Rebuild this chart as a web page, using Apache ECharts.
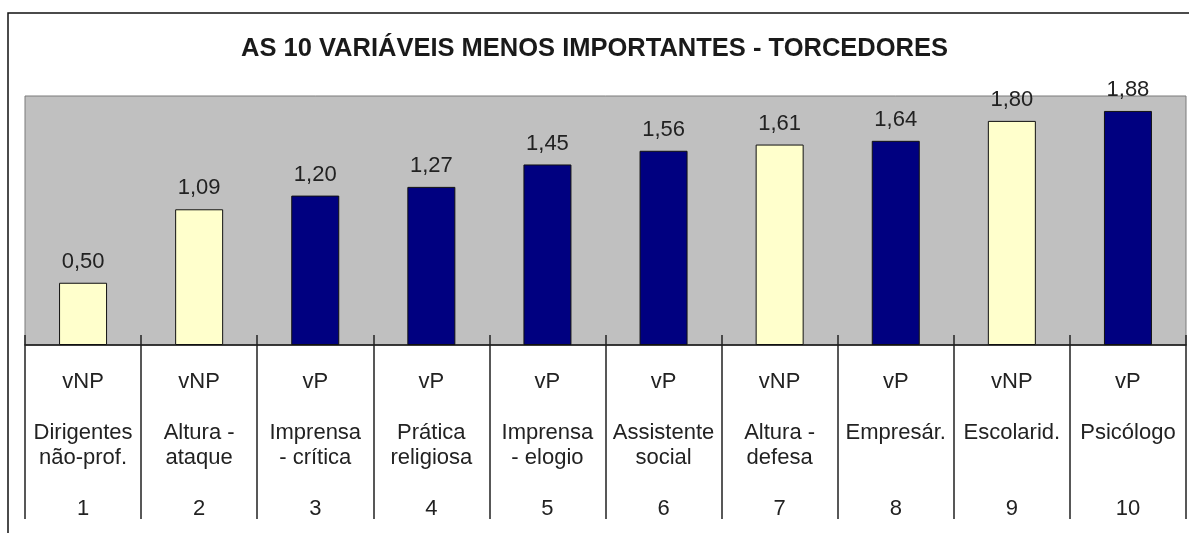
<!DOCTYPE html>
<html>
<head>
<meta charset="utf-8">
<script src="https://cdn.jsdelivr.net/npm/echarts@6/dist/echarts.min.js"></script>
<style>
  html, body { margin: 0; padding: 0; background: #fff; }
  #main { width: 1189px; height: 533px; }
</style>
</head>
<body>
<div id="main"></div>
<script>
// data
const ranks = ['1', '2', '3', '4', '5', '6', '7', '8', '9', '10']
const kinds = ['vNP', 'vNP', 'vP', 'vP', 'vP', 'vP', 'vNP', 'vP', 'vNP', 'vP']
const names = [
  'Dirigentes\nnão-prof.', 'Altura -\nataque', 'Imprensa\n- crítica', 'Prática\nreligiosa',
  'Imprensa\n- elogio', 'Assistente\nsocial', 'Altura -\ndefesa', 'Empresár.', 'Escolarid.', 'Psicólogo'
]
const values = [0.50, 1.09, 1.20, 1.27, 1.45, 1.56, 1.61, 1.64, 1.80, 1.88]

const kindColor = { vNP: '#ffffcc', vP: '#000080' }

const myChart = echarts.init(document.getElementById('main'))

const labelFor = (i) => {
  const nm = names[i].split('\n')
  if (nm.length < 2) nm.push(' ')
  return [kinds[i], ' ', nm[0], nm[1], ' ', ranks[i]].join('\n')
}

const option = {
  animation: false,
  title: {
    text: 'AS 10 VARIÁVEIS MENOS IMPORTANTES - TORCEDORES',
    left: 'center',
    top: 31,
    textStyle: { fontFamily: 'Liberation Sans', fontSize: 25.5, fontWeight: 'bold', color: '#1a1a1a' }
  },
  graphic: [
    {
      type: 'rect',
      shape: { x: 8, y: 13, width: 1300, height: 600 },
      style: { fill: 'none', stroke: '#111', lineWidth: 1.5 },
      silent: true
    }
  ],
  grid: {
    left: 25, right: 3, top: 96, bottom: 188,
    show: true, backgroundColor: '#c0c0c0', borderColor: '#7a7a7a', borderWidth: 1
  },
  xAxis: [
    {
      type: 'category',
      data: ranks,
      axisLine: { lineStyle: { color: '#111', width: 1.5 } },
      axisTick: { show: true, alignWithLabel: false, length: 174, lineStyle: { color: '#222', width: 1.5 } },
      axisLabel: {
        interval: 0,
        margin: 24,
        fontFamily: 'Liberation Sans',
        fontSize: 22,
        lineHeight: 25.5,
        color: '#222',
        formatter: (v, i) => labelFor(i)
      }
    },
    {
      type: 'category',
      data: ranks,
      position: 'bottom',
      axisLine: { show: false },
      axisTick: { show: true, inside: true, length: 10, lineStyle: { color: '#222', width: 1.5 } },
      axisLabel: { show: false }
    }
  ],
  yAxis: {
    type: 'value',
    min: 0,
    max: 2,
    show: false,
    splitLine: { show: false }
  },
  series: [
    {
      type: 'bar',
      barWidth: 48,
      data: values.map((v, i) => ({
        value: v,
        itemStyle: { color: kindColor[kinds[i]], borderColor: '#111', borderWidth: 1 }
      })),
      label: {
        show: true,
        position: 'top',
        distance: 10,
        fontFamily: 'Liberation Sans',
        fontSize: 22,
        color: '#222',
        formatter: (p) => p.value.toFixed(2).replace('.', ',')
      }
    }
  ]
}

option && myChart.setOption(option)
</script>
</body>
</html>
